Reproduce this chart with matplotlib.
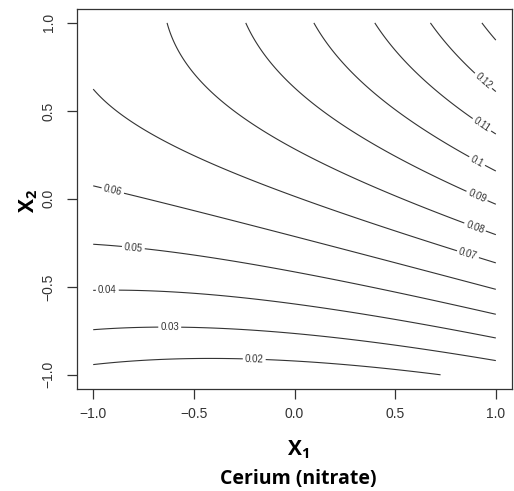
import numpy as np
import matplotlib
matplotlib.use('Agg')
import matplotlib.pyplot as plt

# fitted response surface (coded variables X1, X2)
b0, b1, b2 = 0.06941, 0.01683, 0.04115
b12, b11, b22 = 0.01352, 0.00545, -0.01353
levels = [0.02, 0.03, 0.04, 0.05, 0.06, 0.07, 0.08, 0.09, 0.10, 0.11, 0.12, 0.13]
ticks = [-1.0, -0.5, 0.0, 0.5, 1.0]
tick_labels = ['\u22121.0', '\u22120.5', '0.0', '0.5', '1.0']

plt.rcParams['font.family'] = ['Liberation Sans', 'DejaVu Sans']
plt.rcParams['mathtext.fontset'] = 'custom'
plt.rcParams['mathtext.bf'] = 'Open Sans:bold'
plt.rcParams['mathtext.rm'] = 'Open Sans:bold'

g = np.linspace(-1, 1, 201)
X1, X2 = np.meshgrid(g, g)
Z = b0 + b1 * X1 + b2 * X2 + b12 * X1 * X2 + b11 * X1 ** 2 + b22 * X2 ** 2

fig = plt.figure(figsize=(5.14, 4.91), dpi=100)
ax = fig.add_axes([0.150, 0.208, 0.846, 0.774])
cs = ax.contour(X1, X2, Z, levels=levels, colors='#333333', linewidths=0.8)

label_pos = [(-0.2, -0.91), (-0.62, -0.75), (-0.93, -0.52), (-0.8, -0.27),
             (-0.9, 0.06), (0.86, -0.32), (0.9, -0.15), (0.9, 0.0),
             (0.9, 0.2), (0.93, 0.42), (0.93, 0.66)]
ax.clabel(cs, levels=levels[:-1], inline=True, fontsize=7, fmt='%g',
          manual=label_pos, colors='#333333', inline_spacing=3)

ax.set_xlim(-1.08, 1.08)
ax.set_ylim(-1.08, 1.08)
ax.set_xticks(ticks)
ax.set_yticks(ticks)
ax.set_xticklabels(tick_labels, fontsize=10)
ax.set_yticklabels(tick_labels, fontsize=10, rotation=90, va='center')
ax.tick_params(length=7, width=0.9, color='#333333', labelcolor='#333333')
ax.tick_params(axis='x', pad=6)
ax.tick_params(axis='y', pad=8.5)
for s in ax.spines.values():
    s.set_color('#333333')
    s.set_linewidth(0.9)

fig.text(0.58, 0.085, '$\\mathbf{X_1}$', ha='center', va='center', fontsize=15)
fig.text(0.58, 0.024, 'Cerium (nitrate)', ha='center', va='center', fontsize=14,
         family='Open Sans', weight='bold')
fig.text(0.055, 0.59, '$\\mathbf{X_2}$', ha='center', va='center', fontsize=15,
         rotation=90)

fig.savefig('out.png')
